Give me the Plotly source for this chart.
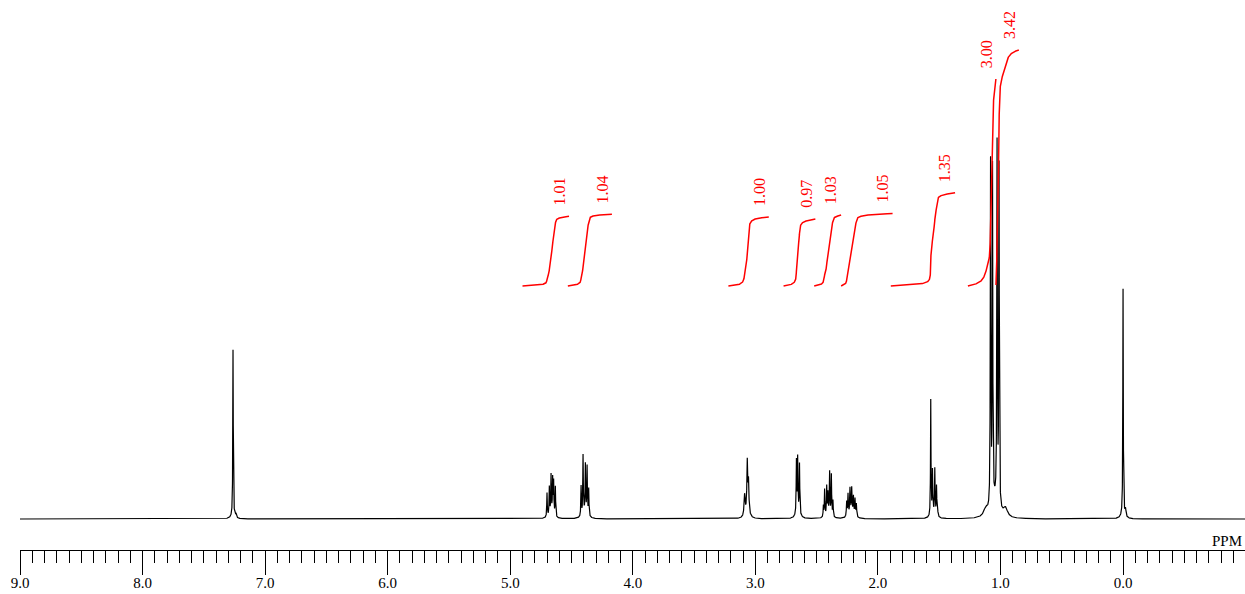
import numpy as np
import plotly.graph_objects as go

# ---- peak list (ppm, height, half-width in ppm) ----
peak_ppm = [7.262, 7.245, 7.236, 7.262,
            4.700, 4.681, 4.667, 4.654, 4.646, 4.632, 4.666,
            4.422, 4.406, 4.387, 4.373, 4.360, 4.391,
            3.088, 3.066, 3.056, 3.066,
            2.665, 2.655, 2.640, 2.652,
            2.445, 2.435, 2.418, 2.408, 2.394, 2.380, 2.367, 2.405,
            2.255, 2.244, 2.228, 2.214, 2.200, 2.187, 2.176, 2.215,
            1.569, 1.555, 1.536, 1.522, 1.514, 1.545,
            1.120, 1.081, 1.065, 1.028, 1.012, 0.960, 1.045,
            0.000, -0.020, 0.000]
peak_height = [166, 4, 3, 3,
               24, 28, 38, 35, 33, 30, 5,
               30, 59, 48, 48, 27, 6,
               21, 50, 30, 6,
               53, 54, 50, 6,
               11, 27, 28, 20, 42, 41, 16, 5,
               15, 22, 26, 25, 18, 17, 13, 5,
               116, 43, 45, 29, 11, 5,
               8, 345, 335, 358, 340, 9, 16,
               226, 7, 4]
peak_width = [0.0022, 0.003, 0.003, 0.02,
              0.0025, 0.0025, 0.0025, 0.0025, 0.0025, 0.0025, 0.022,
              0.0025, 0.0025, 0.0025, 0.0025, 0.0025, 0.022,
              0.005, 0.004, 0.004, 0.02,
              0.0025, 0.0025, 0.0025, 0.02,
              0.0025, 0.0025, 0.0025, 0.0025, 0.0025, 0.0025, 0.0025, 0.022,
              0.003, 0.003, 0.003, 0.003, 0.003, 0.003, 0.003, 0.022,
              0.0022, 0.0025, 0.0025, 0.0025, 0.0025, 0.022,
              0.02, 0.0025, 0.0025, 0.0025, 0.0025, 0.02, 0.03,
              0.0022, 0.004, 0.02]

# ---- integrals ----
integral_start = [4.90, 4.53, 3.22, 2.77, 2.52, 2.30, 1.895, 1.266, 1.037]
integral_end = [4.52, 4.17, 2.89, 2.51, 2.30, 1.88, 1.37, 1.037, 0.85]
integral_value = [1.01, 1.04, 1.00, 0.97, 1.03, 1.05, 1.35, 3.00, 3.42]
integral_labels = ["1.01", "1.04", "1.00", "0.97", "1.03", "1.05", "1.35", "3.00", "3.42"]

# ---- axis ----
major_ticks = [9, 8, 7, 6, 5, 4, 3, 2, 1, 0]
tick_labels = ["9.0", "8.0", "7.0", "6.0", "5.0", "4.0", "3.0", "2.0", "1.0", "0.0"]

INTEGRAL_BASE = 233.0
INTEGRAL_SCALE = 69.0

ppm = np.arange(9.0, -1.0, -0.0005)
spec = np.zeros_like(ppm)
for p, h, g in zip(peak_ppm, peak_height, peak_width):
    spec += h * g * g / (g * g + (ppm - p) ** 2)

fig = go.Figure()
fig.add_trace(go.Scatter(x=ppm, y=spec, mode="lines",
                         line=dict(color="black", width=1.2), hoverinfo="skip",
                         showlegend=False))

serif = "Liberation Serif, Times New Roman, serif"
annotations = []
for a, b, v, lab in zip(integral_start, integral_end, integral_value, integral_labels):
    m = (ppm <= a) & (ppm >= b)
    xs = ppm[m]
    cum = np.cumsum(spec[m])
    ys = INTEGRAL_BASE + v * INTEGRAL_SCALE * cum / cum[-1]
    fig.add_trace(go.Scatter(x=xs, y=ys, mode="lines",
                             line=dict(color="#ff0000", width=1.5),
                             hoverinfo="skip", showlegend=False))
    annotations.append(dict(x=b + 0.08, y=ys[-1] + 25, xref="x", yref="y",
                            text=lab, textangle=-90, showarrow=False,
                            xanchor="center", yanchor="middle",
                            font=dict(family=serif, size=16, color="#ff0000")))

annotations.append(dict(x=-0.85, y=-22, xref="x", yref="y", text="PPM",
                        showarrow=False, xanchor="center", yanchor="middle",
                        font=dict(family=serif, size=15, color="black")))

fig.update_layout(
    width=1245, height=594,
    margin=dict(l=20, r=0, t=0, b=44, autoexpand=False),
    paper_bgcolor="white", plot_bgcolor="white",
    annotations=annotations,
    xaxis=dict(range=[9.0, -0.995], tickmode="array", tickvals=major_ticks,
               ticktext=tick_labels, ticks="outside", ticklen=24, tickwidth=1,
               tickcolor="black", showline=True, linecolor="black", linewidth=1,
               showgrid=False, zeroline=False, automargin=False,
               ticklabelstandoff=-5,
               tickfont=dict(family=serif, size=15, color="black"),
               minor=dict(tickmode="linear", tick0=0, dtick=0.1, ticks="outside",
                          ticklen=12, tickwidth=1, tickcolor="black", showgrid=False)),
    yaxis=dict(visible=False, range=[-31, 519], fixedrange=True),
)

fig.write_html("out.html", config={"displayModeBar": False},
               post_script="document.body.style.margin='0';document.body.style.padding='0';")
